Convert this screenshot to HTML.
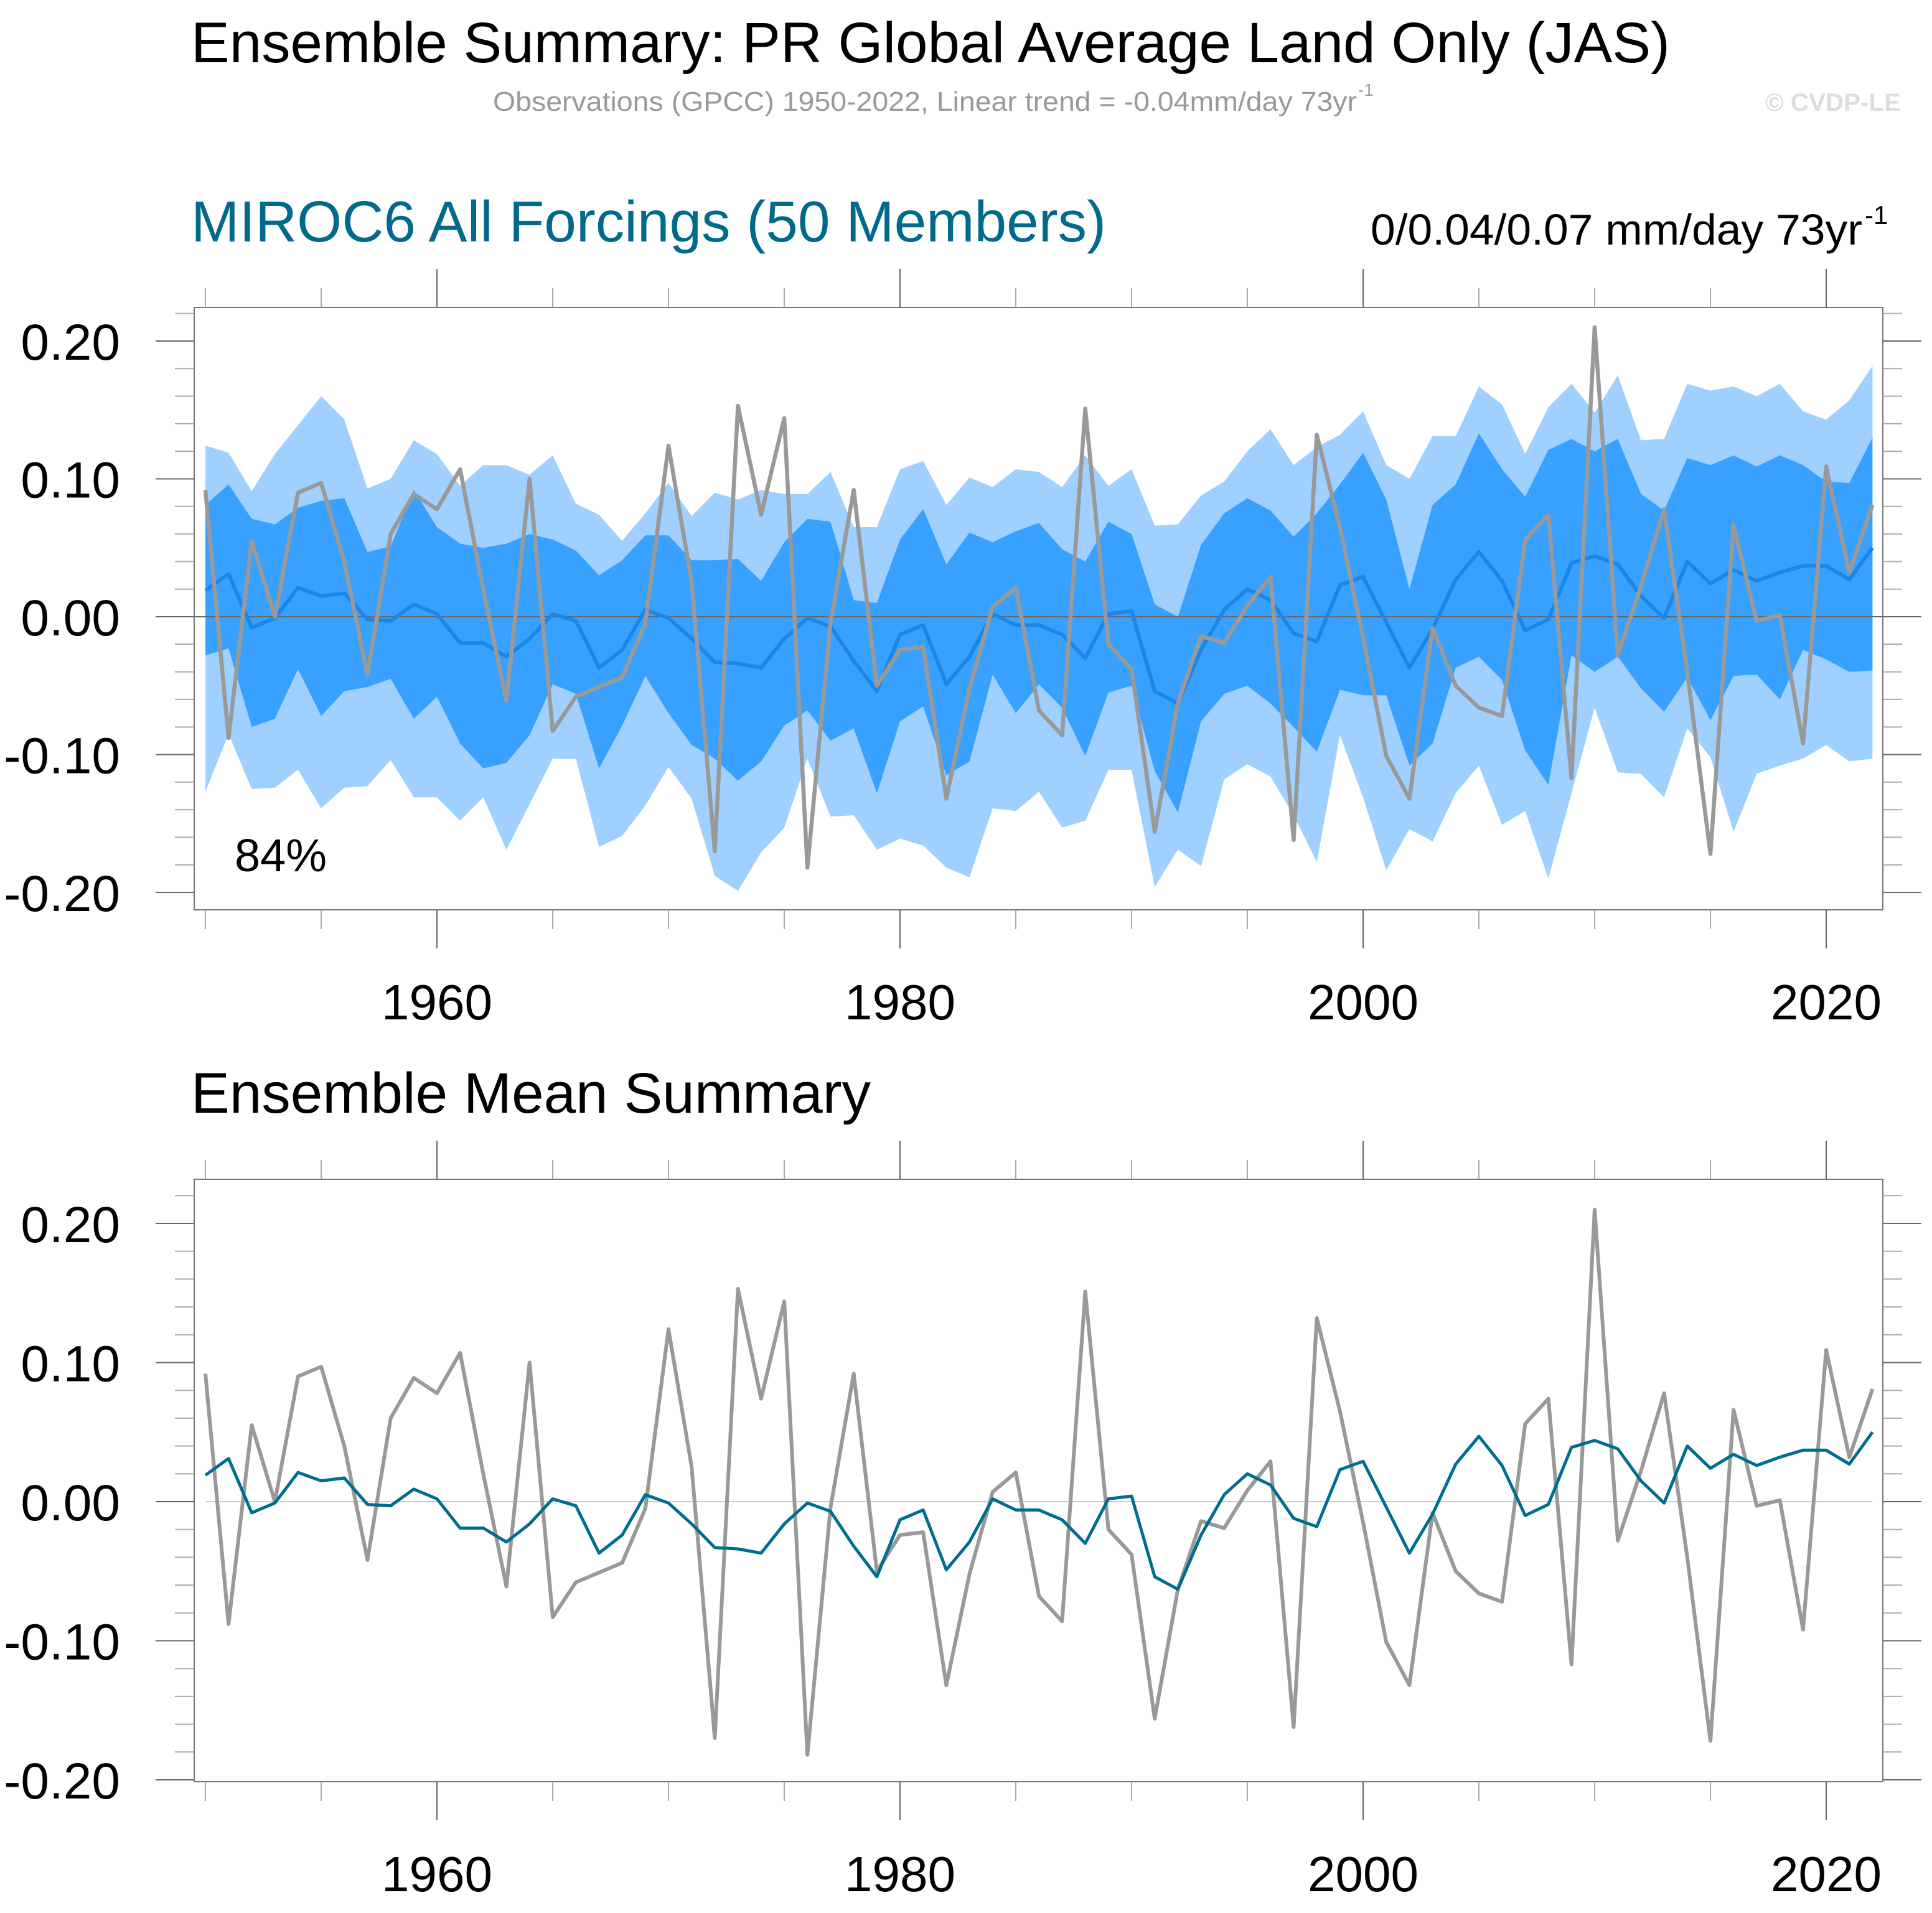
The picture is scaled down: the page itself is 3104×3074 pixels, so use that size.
<!DOCTYPE html>
<html><head><meta charset="utf-8"><title>Ensemble Summary</title>
<style>html,body{margin:0;padding:0;background:#fff}svg{display:block}text{font-family:"Liberation Sans",sans-serif}</style>
</head><body>
<svg id="chart" xmlns="http://www.w3.org/2000/svg" width="3104" height="3074" viewBox="0 0 3104 3074">
<rect width="3104" height="3074" fill="#fff"/>
<text x="307" y="100" font-size="92" fill="#000" textLength="2376" lengthAdjust="spacingAndGlyphs">Ensemble Summary: PR Global Average Land Only (JAS)</text>
<text x="792" y="178" font-size="44" fill="#999" textLength="1388" lengthAdjust="spacingAndGlyphs">Observations (GPCC) 1950-2022, Linear trend = -0.04mm/day 73yr</text>
<text x="2182" y="154" font-size="28" fill="#999">-1</text>
<text x="2836" y="178" font-size="40" font-weight="bold" fill="#ddd" textLength="218" lengthAdjust="spacingAndGlyphs">© CVDP-LE</text>
<text x="307" y="388" font-size="93" fill="#00698c" textLength="1470" lengthAdjust="spacingAndGlyphs">MIROC6 All Forcings (50 Members)</text>
<text x="2202" y="393" font-size="70" fill="#000" textLength="790" lengthAdjust="spacingAndGlyphs">0/0.04/0.07 mm/day 73yr</text>
<text x="2996" y="360" font-size="42" fill="#000">-1</text>
<text x="307" y="1788" font-size="92" fill="#000" textLength="1092" lengthAdjust="spacingAndGlyphs">Ensemble Mean Summary</text>
<g id="top"></g>
<g id="bot"></g>
</svg>
<script>
const obs = [0.092,-0.088,0.055,0.000,0.090,0.097,0.040,-0.042,0.060,0.089,
0.078,0.107,0.020,-0.061,0.100,-0.083,-0.058,-0.051,-0.044,-0.005,
0.124,0.025,-0.170,0.153,0.074,0.144,-0.182,-0.004,0.092,-0.050,
-0.024,-0.022,-0.132,-0.052,0.007,0.021,-0.068,-0.086,0.151,-0.020,
-0.038,-0.156,-0.063,-0.014,-0.019,0.008,0.029,-0.162,0.132,0.065,
-0.015,-0.101,-0.132,-0.008,-0.050,-0.066,-0.072,0.056,0.074,-0.117,
0.210,-0.028,0.022,0.078,-0.040,-0.172,0.066,-0.003,0.001,-0.092,
0.109,0.032,0.081];
const ensMean = [0.019,0.031,-0.008,-0.001,0.021,0.015,0.017,-0.002,-0.003,0.009,
0.002,-0.019,-0.019,-0.029,-0.016,0.002,-0.003,-0.037,-0.024,0.005,
-0.001,-0.016,-0.033,-0.034,-0.037,-0.016,-0.001,-0.007,-0.032,-0.054,
-0.013,-0.006,-0.049,-0.029,0.002,-0.006,-0.006,-0.013,-0.030,0.002,
0.004,-0.054,-0.063,-0.024,0.005,0.020,0.012,-0.012,-0.018,0.023,
0.029,-0.004,-0.037,-0.009,0.027,0.047,0.026,-0.010,-0.002,0.039,
0.044,0.038,0.015,-0.001,0.040,0.024,0.034,0.026,0.032,0.037,
0.037,0.027,0.050];
const outerTop = [0.124,0.119,0.091,0.118,0.139,0.160,0.143,0.093,0.100,0.128,
0.118,0.095,0.110,0.110,0.103,0.117,0.082,0.074,0.055,0.075,
0.097,0.073,0.090,0.085,0.092,0.089,0.089,0.105,0.065,0.065,
0.107,0.113,0.081,0.101,0.094,0.107,0.105,0.094,0.117,0.095,
0.107,0.066,0.067,0.088,0.098,0.120,0.136,0.110,0.123,0.132,
0.149,0.110,0.100,0.131,0.131,0.167,0.154,0.118,0.152,0.169,
0.148,0.175,0.128,0.129,0.169,0.164,0.167,0.160,0.169,0.149,
0.143,0.157,0.182];
const innerTop = [0.081,0.096,0.071,0.067,0.079,0.084,0.086,0.047,0.051,0.092,
0.065,0.053,0.050,0.053,0.060,0.056,0.048,0.030,0.041,0.059,
0.059,0.041,0.041,0.042,0.026,0.054,0.071,0.069,0.012,0.010,
0.056,0.078,0.038,0.061,0.054,0.062,0.068,0.049,0.040,0.069,
0.060,0.009,0.000,0.052,0.075,0.086,0.077,0.058,0.075,0.096,
0.119,0.085,0.020,0.081,0.096,0.133,0.107,0.087,0.121,0.129,
0.120,0.129,0.089,0.077,0.115,0.110,0.117,0.109,0.117,0.110,
0.098,0.097,0.130];
const innerBot = [-0.028,-0.023,-0.080,-0.074,-0.038,-0.072,-0.054,-0.051,-0.045,-0.074,
-0.058,-0.092,-0.110,-0.106,-0.086,-0.049,-0.056,-0.110,-0.079,-0.043,
-0.070,-0.093,-0.103,-0.119,-0.105,-0.079,-0.068,-0.090,-0.081,-0.128,
-0.076,-0.065,-0.115,-0.105,-0.042,-0.070,-0.049,-0.066,-0.101,-0.055,
-0.050,-0.112,-0.142,-0.076,-0.056,-0.050,-0.063,-0.080,-0.098,-0.053,
-0.057,-0.057,-0.108,-0.092,-0.037,-0.029,-0.046,-0.097,-0.122,-0.028,
-0.040,-0.029,-0.052,-0.069,-0.044,-0.075,-0.043,-0.042,-0.060,-0.024,
-0.031,-0.040,-0.039];
const outerBot = [-0.127,-0.085,-0.125,-0.124,-0.111,-0.139,-0.124,-0.123,-0.104,-0.131,
-0.131,-0.148,-0.131,-0.169,-0.136,-0.103,-0.103,-0.167,-0.159,-0.137,
-0.109,-0.132,-0.188,-0.199,-0.171,-0.153,-0.103,-0.145,-0.144,-0.169,
-0.161,-0.166,-0.182,-0.189,-0.139,-0.141,-0.127,-0.153,-0.148,-0.111,
-0.111,-0.196,-0.169,-0.181,-0.118,-0.107,-0.116,-0.144,-0.178,-0.086,
-0.131,-0.184,-0.154,-0.163,-0.128,-0.108,-0.151,-0.141,-0.190,-0.128,
-0.066,-0.113,-0.114,-0.131,-0.081,-0.102,-0.156,-0.114,-0.108,-0.103,
-0.093,-0.105,-0.103];
const startYear = 1950;
const yTickValues = [0.20, 0.10, 0.00, -0.10, -0.20];
const yTickLabels = ["0.20", "0.10", "0.00", "-0.10", "-0.20"];
const xTickYears = [1960, 1980, 2000, 2020];
const xTickLabels = ["1960", "1980", "2000", "2020"];
const memberPercent = "84%";

const NS = "http://www.w3.org/2000/svg";
function mk(parent, tag, attrs) {
  const e = document.createElementNS(NS, tag);
  for (const k in attrs) e.setAttribute(k, attrs[k]);
  parent.appendChild(e);
  return e;
}
const x = yr => 330 + (yr - 1950) * 37.2;

function panel(g, top, bottom, zeroY, unit, isTop) {
  const y = v => zeroY - v * unit * 100;
  const L = 312, R = 3025;
  const pts = arr => arr.map((v, i) => x(startYear + i).toFixed(1) + "," + y(v).toFixed(1));
  if (isTop) {
    const o = mk(g, "polygon", {points: pts(outerTop).concat(pts(outerBot).reverse()).join(" "), fill: "#9fd0ff"});
    
    
    const inn = mk(g, "polygon", {points: pts(innerTop).concat(pts(innerBot).reverse()).join(" "), fill: "#38a0ff"});
    
    
    const z = mk(g, "line", {x1: L, x2: R, y1: y(0), y2: y(0), stroke: "#666", "stroke-width": 2});
    
    
    const m = mk(g, "polyline", {points: pts(ensMean).join(" "), fill: "none", stroke: "#1a87e8", "stroke-width": 6, "stroke-linejoin": "round"});
    
    
    const ob = mk(g, "polyline", {points: pts(obs).join(" "), fill: "none", stroke: "#999", "stroke-width": 6.5, "stroke-linejoin": "round"});
    
    
    const pc = mk(g, "text", {x: 377, y: 1400, "font-size": 74, fill: "#000"});
    pc.textContent = memberPercent;
    
    
  } else {
    const z = mk(g, "line", {x1: x(1950), x2: x(2022), y1: y(0), y2: y(0), stroke: "#ccc", "stroke-width": 2});
    
    
    const ob = mk(g, "polyline", {points: pts(obs).join(" "), fill: "none", stroke: "#999", "stroke-width": 6, "stroke-linejoin": "round"});
    
    
    const m = mk(g, "polyline", {points: pts(ensMean).join(" "), fill: "none", stroke: "#006d8f", "stroke-width": 5, "stroke-linejoin": "round"});
    
    
  }
  const box = mk(g, "rect", {x: L, y: top, width: R - L, height: bottom - top, fill: "none", stroke: "#777", "stroke-width": 2});
  
  
  for (let k = -12; k <= 12; k++) {
    const v = k * 0.02;
    const yy = y(v);
    if (yy < top - 1 || yy > bottom + 1) continue;
    const major = (k % 5 === 0);
    const len = major ? 62 : 31;
    const t1 = mk(g, "line", {x1: L - len, x2: L, y1: yy, y2: yy, stroke: major ? "#666" : "#aaa", "stroke-width": 2});
    
    
    const t2 = mk(g, "line", {x1: R, x2: R + len, y1: yy, y2: yy, stroke: major ? "#666" : "#aaa", "stroke-width": 2});
    
    
  }
  yTickValues.forEach((v, i) => {
    const t = mk(g, "text", {x: 193, y: y(v) + 30, "font-size": 82, "text-anchor": "end", fill: "#000"});
    t.textContent = yTickLabels[i];
    
    
  });
  for (let yr = 1950; yr <= 2020; yr += 5) {
    const xx = x(yr);
    const major = (yr % 20 === 0);
    const len = major ? 62 : 31;
    const a = mk(g, "line", {x1: xx, x2: xx, y1: top - len, y2: top, stroke: major ? "#666" : "#aaa", "stroke-width": 2});
    
    
    const b = mk(g, "line", {x1: xx, x2: xx, y1: bottom, y2: bottom + len, stroke: major ? "#666" : "#aaa", "stroke-width": 2});
    
    
  }
  xTickYears.forEach((yr, i) => {
    const t = mk(g, "text", {x: x(yr), y: bottom + 176, "font-size": 80, "text-anchor": "middle", fill: "#000"});
    t.textContent = xTickLabels[i];
    
    
  });
}
panel(document.getElementById("top"), 494, 1462, 991, 22.15, true);
panel(document.getElementById("bot"), 1895, 2863, 2413, 22.35, false);
</script>
</body></html>
